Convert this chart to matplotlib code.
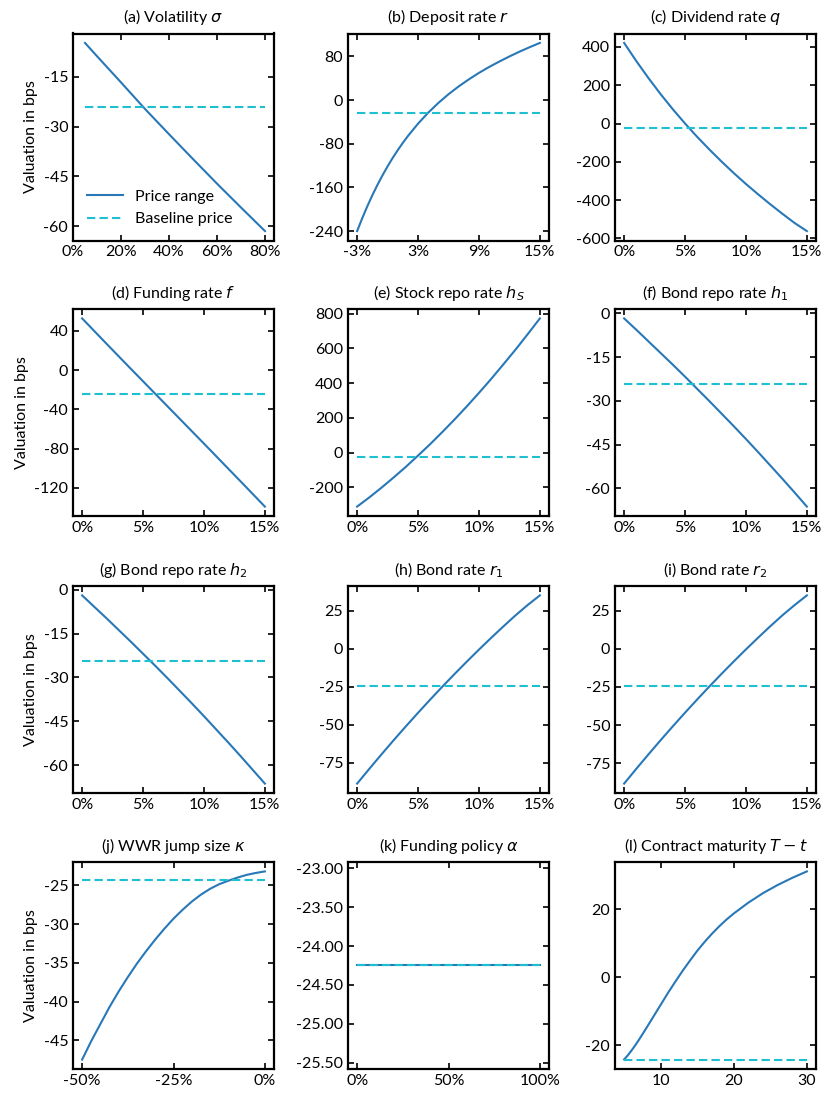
import numpy as np
import matplotlib
matplotlib.use("Agg")
import matplotlib.pyplot as plt
from matplotlib.ticker import FuncFormatter, FixedLocator

plt.rcParams['font.family'] = ['Lato', 'DejaVu Sans']
plt.rcParams['mathtext.fontset'] = 'dejavusans'
fs = 11.5  # font size used everywhere

price_col = "#2878b8"   # Price range
base_col = "#1fbfd2"    # Baseline price
baseline = -24.25       # baseline price in bps

# (a) volatility sigma, in %
sig_x = [5, 10, 20, 30, 40, 50, 60, 70, 80]
sig_y = [-4.8, -8.8, -16.7, -24.7, -32.3, -39.8, -47.2, -54.4, -61.5]
# (b) deposit rate r
r_x = [-3, -2.5, -2, -1.5, -1, -0.5, 0, 0.5, 1, 1.5, 2, 3, 4, 5, 6, 7, 8, 9, 10, 11, 12, 13, 14, 15]
r_y = [-240, -216.5, -194.6, -174.3, -155.4, -137.8, -121.4, -106.0, -91.8, -78.4, -65.9,
       -43.2, -23.1, -5.3, 10.7, 25.0, 37.9, 49.8, 60.6, 70.5, 79.9, 88.7, 96.9, 104.7]
# x grid for the 0-15% panels
rate_x = [0, 1, 2, 3, 4, 5, 6, 7, 8, 9, 10, 11, 12, 13, 14, 15]
# (c) dividend rate q
q_y = [421, 326, 237, 153, 74, 0, -70, -136, -199, -259, -316, -370, -422, -472, -520, -562]
# (d) funding rate f
f_y = [52.6, 39.7, 26.8, 14.0, 1.2, -11.5, -24.2, -36.9, -49.6, -62.3, -75.0, -87.8, -100.6, -113.4, -126.3, -139.2]
# (e) stock repo rate h_S
hs_y = [-311, -258, -202, -143, -82, -17, 49, 119, 191, 266, 344, 424, 508, 593, 682, 773]
# (f) bond repo rate h_1
h1_y = [-1.7, -5.6, -9.6, -13.6, -17.6, -21.7, -25.9, -30.1, -34.4, -38.7, -43.1, -47.6, -52.2, -56.8, -61.5, -66.3]
# (g) bond repo rate h_2
h2_y = [-2.0, -5.9, -9.8, -13.8, -17.8, -21.9, -26.0, -30.2, -34.5, -38.8, -43.2, -47.7, -52.2, -56.8, -61.5, -66.2]
# (h) bond rate r_1
r1_y = [-88.6, -78.9, -69.4, -60.1, -51.0, -42.1, -33.4, -24.9, -16.6, -8.5, -0.6, 7.1, 14.6, 21.9, 28.7, 35.0]
# (i) bond rate r_2
r2_y = [-88.4, -78.7, -69.2, -59.9, -50.8, -41.9, -33.2, -24.7, -16.4, -8.3, -0.4, 7.3, 14.8, 22.0, 28.7, 35.0]
# (j) WWR jump size kappa
k_x = [-50, -47.5, -45, -42.5, -40, -37.5, -35, -32.5, -30, -27.5, -25, -22.5, -20,
       -17.5, -15, -12.5, -10, -7.5, -5, -2.5, 0]
k_y = [-47.5, -45.1, -42.9, -40.7, -38.7, -36.85, -35.1, -33.5, -32.0, -30.6, -29.3, -28.15,
       -27.1, -26.2, -25.45, -24.85, -24.4, -24.0, -23.65, -23.4, -23.2]
# (k) funding policy alpha
a_x = [0, 25, 50, 75, 100]
a_y = [-24.25, -24.25, -24.25, -24.25, -24.25]
# (l) contract maturity T - t, in years
t_x = [5, 5.5, 6, 6.5, 7, 8, 9, 10, 11, 12, 13, 14, 15, 16, 17, 18, 19, 20, 22, 24, 26, 28, 30]
t_y = [-24.2, -23.0, -21.6, -20.1, -18.5, -15.1, -11.6, -8.1, -4.6, -1.3, 1.9, 4.9, 7.8, 10.4,
       12.8, 15.0, 17.0, 18.8, 22.0, 24.8, 27.2, 29.3, 31.2]

titles = [r"(a) Volatility $\sigma$", r"(b) Deposit rate $r$", r"(c) Dividend rate $q$",
          r"(d) Funding rate $f$", r"(e) Stock repo rate $h_S$", r"(f) Bond repo rate $h_1$",
          r"(g) Bond repo rate $h_2$", r"(h) Bond rate $r_1$", r"(i) Bond rate $r_2$",
          r"(j) WWR jump size $\kappa$", r"(k) Funding policy $\alpha$", r"(l) Contract maturity $T-t$"]
xs = [sig_x, r_x, rate_x, rate_x, rate_x, rate_x, rate_x, rate_x, rate_x, k_x, a_x, t_x]
ys = [sig_y, r_y, q_y, f_y, hs_y, h1_y, h2_y, r1_y, r2_y, k_y, a_y, t_y]
xticks = [[0, 20, 40, 60, 80], [-3, 3, 9, 15], [0, 5, 10, 15], [0, 5, 10, 15],
          [0, 5, 10, 15], [0, 5, 10, 15], [0, 5, 10, 15], [0, 5, 10, 15],
          [0, 5, 10, 15], [-50, -25, 0], [0, 50, 100], [10, 20, 30]]
yticks = [[-60, -45, -30, -15], [-240, -160, -80, 0, 80], [-600, -400, -200, 0, 200, 400],
          [-120, -80, -40, 0, 40], [-200, 0, 200, 400, 600, 800], [-60, -45, -30, -15, 0],
          [-60, -45, -30, -15, 0], [-75, -50, -25, 0, 25], [-75, -50, -25, 0, 25],
          [-45, -40, -35, -30, -25], [-25.5, -25.0, -24.5, -24.0, -23.5, -23.0], [-20, 0, 20]]

# pixel layout of the 4x3 grid
W, H = 831, 1104
lefts = [73, 348, 615]
tops = [33.5, 309, 586, 862]
aw, ah = 201, 207

fig = plt.figure(figsize=(W / 100, H / 100), dpi=100)

pct = FuncFormatter(lambda v, p: "{:g}%".format(v))
for i in range(12):
    row, col = divmod(i, 3)
    ax = fig.add_axes([lefts[col] / W, 1 - (tops[row] + ah) / H, aw / W, ah / H])
    x = xs[i]
    ax.plot(x, ys[i], color=price_col, lw=1.5, label="Price range")
    ax.plot(x, [baseline] * len(x), color=base_col, lw=1.5, ls=(0, (4, 2)), label="Baseline price")
    ax.set_title(titles[i], fontsize=fs, pad=8)
    ax.xaxis.set_major_locator(FixedLocator(xticks[i]))
    ax.yaxis.set_major_locator(FixedLocator(yticks[i]))
    if i != 11:
        ax.xaxis.set_major_formatter(pct)
    if i == 0:
        ax.set_xlim(0, 83.75)
    if i == 10:
        ax.yaxis.set_major_formatter(FuncFormatter(lambda v, p: "{:.2f}".format(v)))
    else:
        ax.yaxis.set_major_formatter(FuncFormatter(lambda v, p: "{:g}".format(v)))
    ax.tick_params(direction='in', top=True, right=True, length=4, width=1.2, labelsize=fs)
    for s in ax.spines.values():
        s.set_linewidth(1.6)
    if col == 0:
        ax.set_ylabel("Valuation in bps", fontsize=fs)
    if i == 0:
        ax.legend(loc='lower left', frameon=False, fontsize=fs, handlelength=2.2,
                  borderaxespad=0.5)

fig.savefig("out.png", dpi=100)
